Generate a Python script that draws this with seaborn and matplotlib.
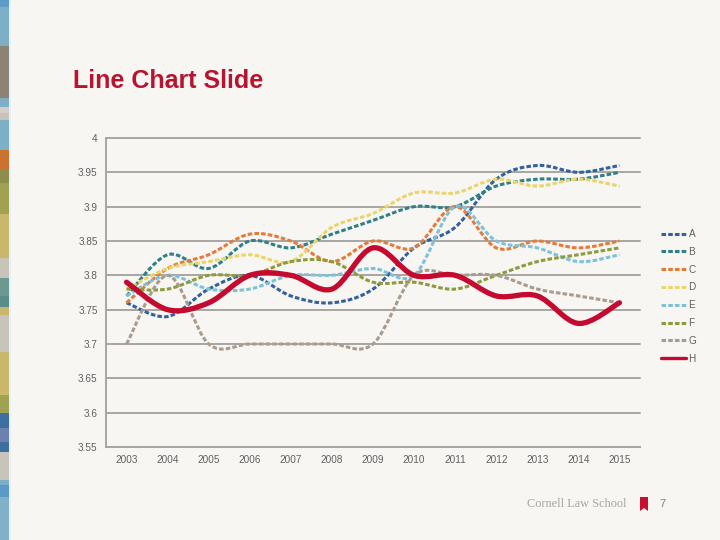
import numpy as np
import pandas as pd
import matplotlib.pyplot as plt
import seaborn as sns
from matplotlib.path import Path
from matplotlib.patches import PathPatch, Rectangle, Polygon
from matplotlib.lines import Line2D

# -----------------------------------
# DATA
# -----------------------------------
years = ['2003', '2004', '2005', '2006', '2007', '2008', '2009',
         '2010', '2011', '2012', '2013', '2014', '2015']

series_a = [3.76, 3.74, 3.78, 3.80, 3.77, 3.76, 3.78, 3.84, 3.87, 3.94, 3.96, 3.95, 3.96]
series_b = [3.77, 3.83, 3.81, 3.85, 3.84, 3.86, 3.88, 3.90, 3.90, 3.93, 3.94, 3.94, 3.95]
series_c = [3.76, 3.81, 3.83, 3.86, 3.85, 3.82, 3.85, 3.84, 3.90, 3.84, 3.85, 3.84, 3.85]
series_d = [3.78, 3.81, 3.82, 3.83, 3.82, 3.87, 3.89, 3.92, 3.92, 3.94, 3.93, 3.94, 3.93]
series_e = [3.77, 3.80, 3.78, 3.78, 3.80, 3.80, 3.81, 3.80, 3.90, 3.85, 3.84, 3.82, 3.83]
series_f = [3.78, 3.78, 3.80, 3.80, 3.82, 3.82, 3.79, 3.79, 3.78, 3.80, 3.82, 3.83, 3.84]
series_g = [3.70, 3.80, 3.70, 3.70, 3.70, 3.70, 3.70, 3.80, 3.80, 3.80, 3.78, 3.77, 3.76]
series_h = [3.79, 3.75, 3.76, 3.80, 3.80, 3.78, 3.84, 3.80, 3.80, 3.77, 3.77, 3.73, 3.76]

names = ['A', 'B', 'C', 'D', 'E', 'F', 'G', 'H']
values = [series_a, series_b, series_c, series_d,
          series_e, series_f, series_g, series_h]

y_ticks = [3.55, 3.6, 3.65, 3.7, 3.75, 3.8, 3.85, 3.9, 3.95, 4.0]
y_tick_labels = ['3.55', '3.6', '3.65', '3.7', '3.75', '3.8',
                 '3.85', '3.9', '3.95', '4']

colors = {'A': '#33619E', 'B': '#2F8088', 'C': '#E37B3B', 'D': '#E9D56E',
          'E': '#7FC1D9', 'F': '#8D9B3D', 'G': '#A99C8E', 'H': '#C40A2F'}
dashes = {n: (1.5, 0.7) for n in names[:-1]}
dashes['H'] = ''
widths = {n: 2.2 for n in names[:-1]}
widths['H'] = 3.8

df = pd.DataFrame({
    'year': np.tile(years, len(names)),
    'series': np.repeat(names, len(years)),
    'value': np.concatenate(values),
})

# -----------------------------------
# FIGURE
# -----------------------------------
bg = '#F8F6F3'
sns.set_style('white')
plt.rcParams['font.family'] = ['Liberation Sans', 'DejaVu Sans']

fig = plt.figure(figsize=(7.2, 5.4), dpi=100, facecolor=bg)
ax = fig.add_axes([106 / 720, 1 - 447 / 540, 534 / 720, 309 / 540])
ax.set_facecolor(bg)

sns.lineplot(
    data=df, x='year', y='value',
    hue='series', style='series', size='series',
    palette=colors, dashes=dashes, sizes=widths,
    hue_order=names, style_order=names, size_order=names,
    sort=False, errorbar=None, legend=False, ax=ax
)

# smooth the lines like the office chart (bezier through each point)
def smooth_path(x, y):
    pts = np.column_stack([x, y])
    n = len(pts)
    verts = [pts[0]]
    codes = [Path.MOVETO]
    for i in range(n - 1):
        p0 = pts[max(i - 1, 0)]
        p1 = pts[i]
        p2 = pts[i + 1]
        p3 = pts[min(i + 2, n - 1)]
        verts += [p1 + (p2 - p0) / 6, p2 - (p3 - p1) / 6, p2]
        codes += [Path.CURVE4] * 3
    return Path(verts, codes)

handles = []
for name, line in zip(names, ax.lines[:len(names)]):
    x, y = line.get_data()
    x = np.arange(len(x))
    solid = name == 'H'
    patch = PathPatch(
        smooth_path(x, np.asarray(y, dtype=float)),
        fill=False,
        edgecolor=colors[name],
        linewidth=widths[name],
        linestyle='-' if solid else (0, dashes[name]),
        capstyle='round' if solid else 'butt',
        zorder=3,
    )
    ax.add_patch(patch)
    line.set_visible(False)
    handles.append(Line2D([], [], color=colors[name], lw=widths[name] if not solid else 2.4,
                          linestyle='-' if solid else (0, dashes[name])))

# -----------------------------------
# AXES STYLE
# -----------------------------------
grid_c = '#A8A6A3'
ax.set_xlim(-0.5, len(years) - 0.5)
ax.set_ylim(3.55, 4.0)
ax.set_yticks(y_ticks)
ax.set_yticklabels(y_tick_labels)
ax.set_xticks(range(len(years)))
ax.set_xticklabels(years)
ax.set_xticks(np.arange(-0.5, len(years)), minor=True)
ax.set_xlabel('')
ax.set_ylabel('')

ax.grid(axis='y', color=grid_c, linewidth=1.4)
ax.grid(axis='x', visible=False)
for g in ax.yaxis.get_gridlines():
    g.set_clip_on(False)
ax.set_axisbelow(True)

for s in ['top', 'right']:
    ax.spines[s].set_visible(False)
for s in ['left', 'bottom']:
    ax.spines[s].set_color(grid_c)
    ax.spines[s].set_linewidth(1.4)

ax.tick_params(axis='y', length=3, width=1.4, color=grid_c, pad=3,
               labelsize=7.2, labelcolor='#606060')
ax.tick_params(axis='x', which='major', length=0, pad=6,
               labelsize=7.2, labelcolor='#606060')
ax.tick_params(axis='x', which='minor', length=3, width=1.4, color=grid_c)

ax.legend(handles, names, loc='upper left', frameon=False,
          bbox_to_anchor=(652 / 720, 1 - 220 / 540),
          bbox_transform=fig.transFigure,
          fontsize=7.2, handlelength=2.5, handletextpad=0.25,
          labelspacing=0.78, labelcolor='#606060')

# -----------------------------------
# SLIDE DECORATION
# -----------------------------------
fig.text(73 / 720, 1 - 81 / 540, 'Line Chart Slide', ha='left', va='center',
         color='#B8132F', fontsize=18, weight='bold')

stripes = [
    (0, 7, '#5C9CC9'), (7, 46, '#7DB0C6'), (46, 98, '#8C8374'),
    (98, 107, '#7DB0C6'), (107, 113, '#D3CFC8'), (113, 120, '#C9C4BA'),
    (120, 150, '#7DB0C6'), (150, 170, '#CB722F'), (170, 183, '#8E8D50'),
    (183, 214, '#A0A252'), (214, 258, '#C9B86B'), (258, 278, '#C9C4BA'),
    (278, 296, '#6C9892'), (296, 307, '#5B8D88'), (307, 315, '#C9B86B'),
    (315, 352, '#C9C4BA'), (352, 395, '#C9B86B'), (395, 413, '#A0A252'),
    (413, 428, '#3E6FA1'), (428, 442, '#6D81B1'), (442, 452, '#3E6FA1'),
    (452, 480, '#C9C4BA'), (480, 485, '#7DB0C6'), (485, 497, '#5A99C9'),
    (497, 540, '#80B1C8'),
]
for y0, y1, c in stripes:
    fig.patches.append(Rectangle((0, 1 - y1 / 540), 9 / 720, (y1 - y0) / 540,
                                 transform=fig.transFigure, facecolor=c,
                                 edgecolor='none'))
fig.patches.append(Rectangle((9 / 720, 0), 2 / 720, 1, transform=fig.transFigure,
                             facecolor='#E4F1F6', edgecolor='none'))

fig.text(527 / 720, 1 - 504 / 540, 'Cornell Law School', ha='left', va='center',
         color='#A9A49C', fontsize=8.8, family='Liberation Serif')
bx0, bx1, by0, by1 = 640 / 720, 648 / 720, 1 - 511 / 540, 1 - 497 / 540
fig.patches.append(Polygon(
    [(bx0, by1), (bx1, by1), (bx1, by0), ((bx0 + bx1) / 2, by0 + 3 / 540), (bx0, by0)],
    closed=True, transform=fig.transFigure, facecolor='#C8102E', edgecolor='none'))
fig.text(662 / 720, 1 - 504 / 540, '7', ha='center', va='center',
         color='#808080', fontsize=8)

plt.savefig('out.png', dpi=100, facecolor=bg)
